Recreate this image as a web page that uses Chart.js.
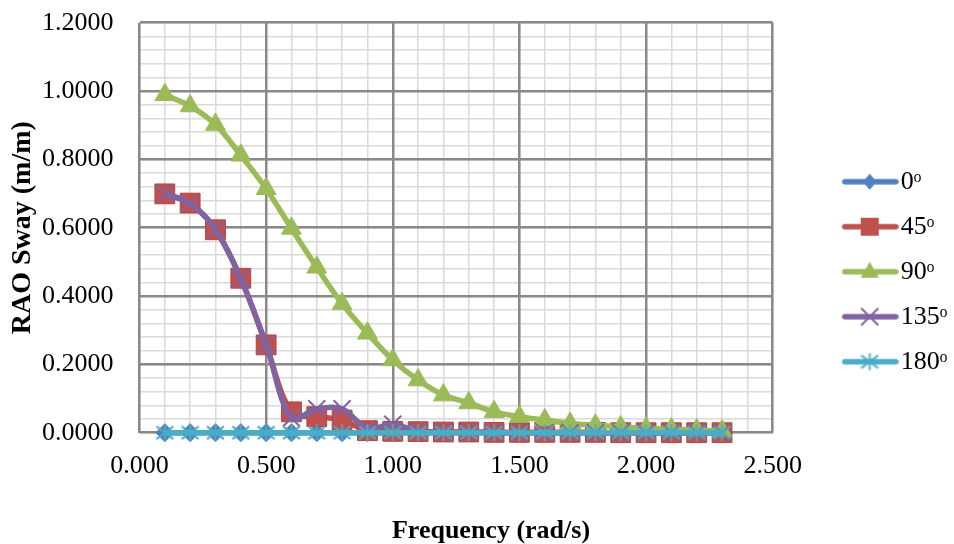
<!DOCTYPE html>
<html>
<head>
<meta charset="utf-8">
<script src="https://cdn.jsdelivr.net/npm/chart.js@4.4.0/dist/chart.umd.min.js"></script>
<style>
  html, body { margin: 0; padding: 0; background: #fff; }
  canvas { display: block; }
</style>
</head>
<body>
<canvas id="rao-sway" width="954" height="544"></canvas>
<script>
// RAO sway against wave frequency, one line per heading
const FONT = '"Liberation Serif", "Times New Roman", Times, serif';

const freq = [0.1, 0.2, 0.3, 0.4, 0.5, 0.6, 0.7, 0.8, 0.9, 1.0, 1.1, 1.2,
  1.3, 1.4, 1.5, 1.6, 1.7, 1.8, 1.9, 2.0, 2.1, 2.2, 2.3];
const headings = ['0ᵒ', '45ᵒ', '90ᵒ', '135ᵒ', '180ᵒ'];
const sway0 = [0, 0, 0, 0, 0, 0, 0, 0, 0, 0, 0, 0,
  0, 0, 0, 0, 0, 0, 0, 0, 0, 0, 0];
const sway45 = [0.699, 0.672, 0.594, 0.452, 0.257, 0.061, 0.047, 0.037, 0.006, 0.004, 0.003, 0.002,
  0.002, 0.001, 0.001, 0.001, 0.001, 0.001, 0.000, 0.000, 0.000, 0.000, 0.000];
const sway90 = [0.989, 0.956, 0.902, 0.812, 0.714, 0.598, 0.484, 0.377, 0.291, 0.213, 0.154, 0.110,
  0.087, 0.061, 0.047, 0.037, 0.027, 0.022, 0.017, 0.013, 0.011, 0.008, 0.005];
const sway135 = [0.700, 0.670, 0.595, 0.450, 0.258, 0.043, 0.070, 0.070, 0.012, 0.025, 0.004, 0.002,
  0.001, 0.001, 0.000, 0.000, 0.000, 0.000, 0.000, 0.000, 0.000, 0.000, 0.000];
const sway180 = [0, 0, 0, 0, 0, 0, 0, 0, 0, 0, 0, 0,
  0, 0, 0, 0, 0, 0, 0, 0, 0, 0, 0];

// axis ranges and tick spacing
const xRange = [0, 2.5];
const yRange = [0, 1.2];
const xLabelStep = 0.5;
const xGridStep = 0.1;
const yLabelStep = 0.2;
const yGridStep = 0.04;

const colors = ['#4F81BD', '#C0504D', '#9BBB59', '#8064A2', '#4BACC6'];
const MAJOR_GRID = '#898989';
const MINOR_GRID = '#dadada';

// Excel-like asterisk marker: an X with a vertical bar
const asterisk = (color, size) => {
  const c = document.createElement('canvas');
  c.width = size + 4;
  c.height = size + 4;
  const g = c.getContext('2d');
  const m = c.width / 2;
  const r = size / 2;
  g.strokeStyle = color;
  g.lineWidth = 2;
  g.beginPath();
  g.moveTo(m - r, m - r * 0.75); g.lineTo(m + r, m + r * 0.75);
  g.moveTo(m - r, m + r * 0.75); g.lineTo(m + r, m - r * 0.75);
  g.moveTo(m, m - r); g.lineTo(m, m + r);
  g.stroke();
  return c;
};
const starMarker = asterisk(colors[4], 17);

// markers for the legend swatches
const legendMarkers = [
  (g, x, y) => { g.fillStyle = colors[0]; g.beginPath(); g.moveTo(x, y - 8); g.lineTo(x + 7, y); g.lineTo(x, y + 8); g.lineTo(x - 7, y); g.closePath(); g.fill(); },
  (g, x, y) => { g.fillStyle = colors[1]; g.fillRect(x - 9, y - 9, 18, 18); },
  (g, x, y) => { g.fillStyle = colors[2]; g.beginPath(); g.moveTo(x, y - 10); g.lineTo(x + 9, y + 6); g.lineTo(x - 9, y + 6); g.closePath(); g.fill(); },
  (g, x, y) => { g.strokeStyle = colors[3]; g.lineWidth = 2; g.beginPath(); g.moveTo(x - 8, y - 8); g.lineTo(x + 8, y + 8); g.moveTo(x - 8, y + 8); g.lineTo(x + 8, y - 8); g.stroke(); },
  (g, x, y) => { g.drawImage(starMarker, x - starMarker.width / 2, y - starMarker.height / 2); },
];

const legendIcon = (color, marker) => {
  const c = document.createElement('canvas');
  c.width = 118;
  c.height = 24;
  const g = c.getContext('2d');
  g.strokeStyle = color;
  g.lineWidth = 5.5;
  g.lineCap = 'round';
  g.beginPath();
  g.moveTo(64, 12);
  g.lineTo(115, 12);
  g.stroke();
  marker(g, 89, 12);
  return c;
};
const legendIcons = colors.map((c, i) => legendIcon(c, legendMarkers[i]));

const toPoints = (ys) => freq.map((x, i) => ({ x, y: ys[i] }));

const lineBase = {
  borderWidth: 5.5,
  tension: 0.35,
  clip: false,
};

const datasets = [
  { ...lineBase, label: headings[0], data: toPoints(sway0), order: 5, borderColor: colors[0], pointStyle: 'rectRot', pointRadius: 9, pointBackgroundColor: colors[0], pointBorderColor: colors[0], pointBorderWidth: 1 },
  { ...lineBase, label: headings[1], data: toPoints(sway45), order: 4, borderColor: colors[1], pointStyle: 'rect', pointRadius: 14, pointBackgroundColor: colors[1], pointBorderColor: '#b5433f', pointBorderWidth: 1 },
  { ...lineBase, label: headings[2], data: toPoints(sway90), order: 3, borderColor: colors[2], pointStyle: 'triangle', pointRadius: 11.5, pointBackgroundColor: colors[2], pointBorderColor: colors[2], pointBorderWidth: 1 },
  { ...lineBase, label: headings[3], data: toPoints(sway135), order: 2, borderColor: colors[3], pointStyle: 'crossRot', pointRadius: 12, pointBorderColor: colors[3], pointBorderWidth: 2 },
  { ...lineBase, label: headings[4], data: toPoints(sway180), order: 1, borderColor: colors[4], pointStyle: starMarker, pointRadius: 9 },
];

const isMultiple = (v, step) => Math.abs(v / step - Math.round(v / step)) < 1e-6;

new Chart(document.getElementById('rao-sway'), {
  type: 'line',
  data: { datasets },
  options: {
    responsive: false,
    animation: false,
    events: [],
    layout: { padding: { left: 28, top: 22.7, right: 0, bottom: 23.2 } },
    scales: {
      // light minor grid, drawn under the major lines
      xm: {
        type: 'linear', position: 'bottom', min: xRange[0], max: xRange[1],
        ticks: { display: false, stepSize: xGridStep },
        grid: { color: MINOR_GRID, lineWidth: 1.5, drawTicks: false, z: -2 },
        border: { display: false },
      },
      ym: {
        type: 'linear', position: 'left', min: yRange[0], max: yRange[1],
        ticks: { display: false, stepSize: yGridStep },
        grid: { color: MINOR_GRID, lineWidth: 1.5, drawTicks: false, z: -2 },
        border: { display: false },
      },
      x: {
        type: 'linear', position: 'bottom', min: xRange[0], max: xRange[1],
        ticks: {
          stepSize: xLabelStep, autoSkip: false, maxRotation: 0, padding: 18,
          color: '#000', font: { family: FONT, size: 26 },
          callback: (v) => (isMultiple(v, xLabelStep) ? v.toFixed(3) : ''),
        },
        grid: { color: MAJOR_GRID, lineWidth: 2.5, drawTicks: false, z: -1 },
        border: { display: false },
        afterFit: (scale) => { scale.height = 85.3; },
      },
      y: {
        type: 'linear', position: 'left', min: yRange[0], max: yRange[1],
        ticks: {
          stepSize: yLabelStep, autoSkip: false, padding: 26,
          color: '#000', font: { family: FONT, size: 26 },
          callback: (v) => v.toFixed(4),
        },
        grid: { color: MAJOR_GRID, lineWidth: 2.5, drawTicks: false, z: -1 },
        border: { display: false },
        title: {
          display: true, text: 'RAO Sway (m/m)', color: '#000',
          font: { family: FONT, size: 28, weight: 'bold' },
          padding: { top: -22.3, bottom: 0 },
        },
        afterFit: (scale) => {
          scale.width = 111.5;
          // the labels may overhang the plot; keep the plot box where the original has it
          scale.paddingTop = 0;
          scale.paddingBottom = 0;
        },
      },
    },
    plugins: {
      // x axis caption, centred on the figure like the original
      title: {
        display: true, position: 'bottom', text: 'Frequency (rad/s)', color: '#000',
        font: { family: FONT, size: 26, weight: 'bold', lineHeight: 1 },
        padding: { top: 0, bottom: -23.2 },
      },
      legend: {
        position: 'right',
        maxWidth: 181.3,
        labels: {
          usePointStyle: true,
          pointStyleWidth: 96,
          padding: 19,
          color: '#000',
          font: { family: FONT, size: 26 },
          generateLabels: (chart) => chart.data.datasets.map((ds, i) => ({
            text: ds.label,
            pointStyle: legendIcons[i],
            datasetIndex: i,
            fontColor: '#000',
            fillStyle: 'transparent',
            strokeStyle: 'transparent',
            lineWidth: 0,
            hidden: false,
          })),
        },
      },
      tooltip: { enabled: false },
    },
  },
});
</script>
</body>
</html>
